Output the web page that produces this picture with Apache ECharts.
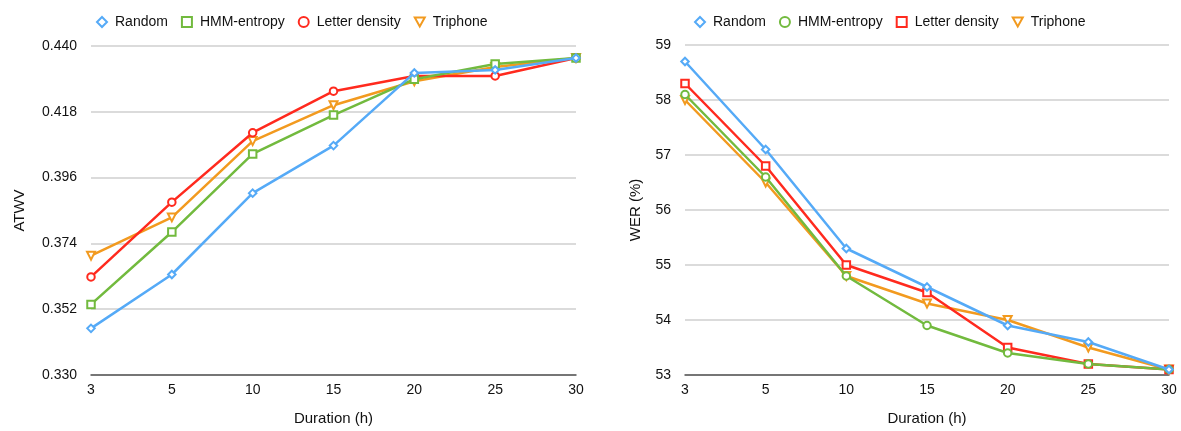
<!DOCTYPE html>
<html><head><meta charset="utf-8">
<script src="https://cdn.jsdelivr.net/npm/echarts@6/dist/echarts.min.js"></script>
<style>html,body{margin:0;padding:0;background:#fff}#c{width:1181px;height:431px}</style>
</head><body><div id="c"></div>
<script>
const categories = ['3','5','10','15','20','25','30'];
const seriesNames = ['Random','HMM-entropy','Letter density','Triphone'];
// Left: ATWV
const atwvRandom  = [0.3456, 0.3636, 0.3908, 0.4067, 0.4310, 0.4320, 0.4360];
const atwvHMM     = [0.3536, 0.3778, 0.4039, 0.4169, 0.4289, 0.4340, 0.4360];
const atwvLetter  = [0.3628, 0.3878, 0.4110, 0.4249, 0.4300, 0.4300, 0.4360];
const atwvTri     = [0.3699, 0.3827, 0.4082, 0.4202, 0.4282, 0.4330, 0.4360];
// Right: WER
const werRandom   = [58.7, 57.1, 55.3, 54.6, 53.9, 53.6, 53.1];
const werHMM      = [58.1, 56.6, 54.8, 53.9, 53.4, 53.2, 53.1];
const werLetter   = [58.3, 56.8, 55.0, 54.5, 53.5, 53.2, 53.1];
const werTri      = [58.0, 56.5, 54.8, 54.3, 54.0, 53.5, 53.1];
const atwvTicks = {min:0.330, max:0.440, interval:0.022};
const werTicks = {min:53, max:59, interval:1};

const colors = ['#55aaf7','#72ba3e','#ff2a1e','#f29a1f'];
const leftSymbols = ['emptyDiamond','emptyRect','emptyCircle','emptyTriangle'];
const rightSymbols = ['emptyDiamond','emptyCircle','emptyRect','emptyTriangle'];
const downTri = 'path://M0,0 L10,0 L5,9 Z';
const font = 'Liberation Sans';

function mkSeries(data, idx, gi, symbols){
  return {
    name: seriesNames[idx], type:'line', xAxisIndex:gi, yAxisIndex:gi,
    data: data, symbol: symbols[idx], symbolSize: idx===3?8:7.5,
    symbolRotate: idx===3?180:0,
    lineStyle:{width:2.5,color:colors[idx]},
    itemStyle:{color:colors[idx], borderWidth:2},
    z: [4,3,2,1][idx], animation:false
  };
}
function mkX(gi){
  return {type:'category', gridIndex:gi, data:categories, boundaryGap:false,
    axisLine:{lineStyle:{color:'#555',width:1.5}}, axisTick:{show:false},
    axisLabel:{color:'#111',fontSize:14,fontFamily:font,margin:8},
    name:'Duration (h)', nameLocation:'middle', nameGap:36,
    nameTextStyle:{color:'#111',fontSize:15,fontFamily:font}};
}
function mkY(gi, t, name, fmt, gap){
  return {type:'value', gridIndex:gi, min:t.min, max:t.max, interval:t.interval,
    axisLine:{show:false}, axisTick:{show:false},
    splitLine:{lineStyle:{color:'#cfcfcf',width:1.5}},
    axisLabel:{color:'#111',fontSize:14,fontFamily:font,margin:14,formatter:fmt},
    name:name, nameLocation:'middle', nameGap:gap, nameRotate:90,
    nameTextStyle:{color:'#111',fontSize:15,fontFamily:font}};
}
function mkLegend(left, symbols){
  return {left:left, top:10, itemGap:13, itemWidth:10, itemHeight:10,
    textStyle:{color:'#111',fontSize:14,fontFamily:font,padding:[0,0,0,3]},
    data: seriesNames.map((n,i)=> i===3
      ? {name:n, icon:downTri, itemStyle:{color:'#fff', borderColor:colors[3], borderWidth:2}}
      : {name:n, icon:symbols[i]})};
}
const chart = echarts.init(document.getElementById('c'));
chart.setOption({
  animation:false,
  legend:[mkLegend(91, leftSymbols), mkLegend(689, rightSymbols)],
  grid:[{left:91, right:605, top:46, bottom:53},{left:685, right:12, top:45, bottom:54}],
  xAxis:[mkX(0), mkX(1)],
  yAxis:[mkY(0, atwvTicks, 'ATWV', v=>v.toFixed(3), 64), mkY(1, werTicks, 'WER (%)', v=>String(v), 42)],
  series:[
    mkSeries(atwvRandom,0,0,leftSymbols), mkSeries(atwvHMM,1,0,leftSymbols),
    mkSeries(atwvLetter,2,0,leftSymbols), mkSeries(atwvTri,3,0,leftSymbols),
    mkSeries(werRandom,0,1,rightSymbols), mkSeries(werHMM,1,1,rightSymbols),
    mkSeries(werLetter,2,1,rightSymbols), mkSeries(werTri,3,1,rightSymbols)
  ]
});
</script></body></html>
